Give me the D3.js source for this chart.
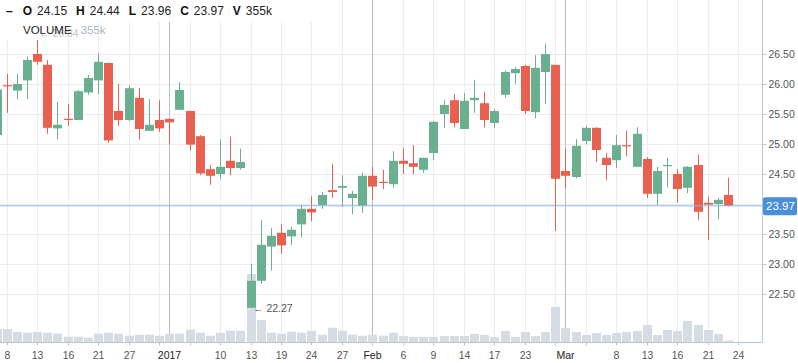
<!DOCTYPE html>
<html><head><meta charset="utf-8">
<script src="https://cdn.jsdelivr.net/npm/d3@7"></script>
<style>
body{margin:0;background:#fff}
svg{display:block;font-family:"Liberation Sans",Arial,sans-serif}
</style>
</head><body>
<svg id="c" width="798" height="363"></svg>
<script>
// ---------------- DATA ----------------
const dates = [
"2016-12-07","2016-12-08","2016-12-09","2016-12-12","2016-12-13","2016-12-14","2016-12-15","2016-12-16",
"2016-12-19","2016-12-20","2016-12-21","2016-12-22","2016-12-23","2016-12-27","2016-12-28","2016-12-29","2016-12-30",
"2017-01-03","2017-01-04","2017-01-05","2017-01-06","2017-01-09","2017-01-10","2017-01-11","2017-01-12","2017-01-13",
"2017-01-17","2017-01-18","2017-01-19","2017-01-20","2017-01-23","2017-01-24","2017-01-25","2017-01-26","2017-01-27",
"2017-01-30","2017-01-31","2017-02-01","2017-02-02","2017-02-03","2017-02-06","2017-02-07","2017-02-08","2017-02-09",
"2017-02-10","2017-02-13","2017-02-14","2017-02-15","2017-02-16","2017-02-17","2017-02-21","2017-02-22","2017-02-23",
"2017-02-24","2017-02-27","2017-02-28","2017-03-01","2017-03-02","2017-03-03","2017-03-06","2017-03-07","2017-03-08",
"2017-03-09","2017-03-10","2017-03-13","2017-03-14","2017-03-15","2017-03-16","2017-03-17","2017-03-20","2017-03-21",
"2017-03-22","2017-03-23","2017-03-24"];

const open  = [25.15,25.98,25.89,26.06,26.50,26.32,25.26,25.42,25.40,25.86,26.06,26.35,25.55,25.40,25.77,25.22,25.40,
25.42,25.57,25.55,25.13,24.58,24.50,24.72,24.60,22.27,22.72,23.29,23.52,23.46,23.66,23.92,23.98,24.23,24.27,24.10,23.97,
24.47,24.37,24.33,24.72,24.68,24.57,24.85,25.50,25.73,25.25,25.73,25.68,25.35,25.82,26.18,26.30,25.53,26.20,26.32,
24.55,24.45,25.05,25.27,24.77,24.73,24.98,24.62,24.75,24.17,24.63,24.50,24.27,24.65,24.02,24.00,24.15];
const high  = [25.95,26.17,26.17,26.46,26.84,26.40,25.70,25.67,25.90,26.15,26.51,26.35,26.00,25.98,25.93,25.75,25.73,
25.42,26.03,25.55,25.15,24.65,25.08,25.12,24.92,23.00,23.73,23.60,23.67,23.62,23.98,24.13,24.20,24.67,24.48,24.22,24.52,
24.62,24.57,24.88,24.93,24.98,24.77,25.38,25.73,25.83,25.85,26.07,25.87,25.58,26.23,26.28,26.32,26.48,26.67,26.32,
24.92,25.08,25.30,25.28,24.85,25.15,25.22,25.28,24.78,24.62,24.77,24.58,24.63,24.82,24.12,24.10,24.44];
const low   = [25.10,25.52,25.75,25.75,26.32,25.17,25.08,25.30,25.40,25.82,25.83,25.02,25.30,25.38,25.07,25.22,25.20,
25.00,25.57,24.89,24.48,24.32,24.42,24.48,24.57,22.27,22.67,22.89,23.17,23.32,23.44,23.71,23.92,24.10,23.95,23.83,23.85,
24.07,24.25,24.27,24.50,24.50,24.52,24.73,25.27,25.28,25.25,25.52,25.28,25.27,25.77,26.00,25.50,25.43,25.67,23.55,
24.27,24.43,25.00,24.70,24.40,24.60,24.80,24.62,24.10,23.98,24.28,24.02,24.18,23.73,23.40,23.75,23.96];
const close = [25.91,25.96,26.00,26.40,26.37,25.27,25.32,25.40,25.88,26.10,26.37,25.06,25.40,25.93,25.25,25.32,25.26,
25.36,25.90,24.99,24.51,24.47,24.62,24.60,24.70,22.72,23.32,23.47,23.31,23.57,23.92,23.86,24.15,24.20,24.30,24.17,24.47,
24.29,24.35,24.72,24.67,24.62,24.77,25.37,25.65,25.35,25.72,25.77,25.40,25.55,26.20,26.25,25.55,26.27,26.50,24.42,
24.47,24.97,25.27,24.90,24.65,24.98,24.97,25.17,24.17,24.55,24.65,24.25,24.62,23.87,23.99,24.07,23.97];
// volume in thousands
const volume = [3010,3080,2370,2200,2370,2200,1965,1255,1255,1020,1965,2200,1965,1490,1730,1730,1490,
1965,1965,2910,2200,1490,2200,2675,2675,16095,5210,2200,1965,2440,2200,2675,1730,3385,2675,1730,1490,
1730,1490,2200,1420,1185,1185,1185,1420,1420,1420,1895,1655,1185,2605,1185,2370,1420,2370,8285,
3315,2370,1655,2130,1655,2130,2370,2605,4025,1655,2840,2605,4970,4025,2840,1895,355];

const gridDates = ["2016-12-08","2016-12-13","2016-12-16","2016-12-21","2016-12-27","2016-12-30","2017-01-05",
"2017-01-10","2017-01-13","2017-01-19","2017-01-24","2017-01-27","2017-02-01","2017-02-06","2017-02-09","2017-02-14",
"2017-02-17","2017-02-23","2017-02-28","2017-03-03","2017-03-08","2017-03-13","2017-03-16","2017-03-21","2017-03-24"];
const monthDates = ["2017-01-03","2017-02-01","2017-03-01"];
const tickDates = ["2016-12-08","2016-12-13","2016-12-16","2016-12-21","2016-12-27","2017-01-03","2017-01-10",
"2017-01-13","2017-01-19","2017-01-24","2017-01-27","2017-02-01","2017-02-06","2017-02-09","2017-02-14","2017-02-17",
"2017-02-23","2017-03-01","2017-03-08","2017-03-13","2017-03-16","2017-03-21","2017-03-24"];
const tickLabels = ["8","13","16","21","27","2017","10","13","19","24","27","Feb","6","9","14","17","23","Mar",
"8","13","16","21","24"];
const priceTicks = [22.5,23,23.5,24,24.5,25,25.5,26,26.5];

// ---------------- CHART ----------------
const GREEN="#6aaf8f", RED="#e8604f";
const plotR=762.5, plotB=342.5;
const svg=d3.select("#c");
const x=d3.scalePoint().domain(dates).range([-3.46,738.2]);
const y=d3.scaleLinear().domain([22.5,26.5]).range([294,54]);
const yv=d3.scaleLinear().domain([0,16095]).range([342,274]);
const data=open.map((o,i)=>({date:dates[i],o,h:high[i],l:low[i],c:close[i],v:volume[i]}));
const cx=d=>Math.round(x(d));
const last=data[data.length-1];

// gridlines
svg.append("g").selectAll("line").data(priceTicks).join("line")
  .attr("x1",0).attr("x2",plotR).attr("y1",d=>Math.round(y(d))+0.5).attr("y2",d=>Math.round(y(d))+0.5)
  .attr("stroke","#ececec");
svg.append("g").selectAll("line").data(gridDates).join("line")
  .attr("x1",d=>cx(d)+0.5).attr("x2",d=>cx(d)+0.5).attr("y1",0).attr("y2",plotB)
  .attr("stroke","#ececec");
svg.append("g").selectAll("line").data(monthDates).join("line")
  .attr("x1",d=>cx(d)+0.5).attr("x2",d=>cx(d)+0.5).attr("y1",0).attr("y2",plotB)
  .attr("stroke","#bdbdbd");

// volume
svg.append("g").selectAll("rect").data(data).join("rect")
  .attr("x",d=>cx(d.date)-4).attr("width",9)
  .attr("y",d=>yv(d.v)).attr("height",d=>342-yv(d.v))
  .attr("fill","#d5dce3");

// candles
const cg=svg.append("g").selectAll("g").data(data).join("g")
  .attr("fill",d=>d.c>=d.o?GREEN:RED).attr("stroke",d=>d.c>=d.o?GREEN:RED);
cg.append("line").attr("x1",d=>cx(d.date)+0.5).attr("x2",d=>cx(d.date)+0.5)
  .attr("y1",d=>y(d.h)).attr("y2",d=>y(d.l)).attr("stroke-width",1);
cg.append("rect").attr("stroke","none")
  .attr("x",d=>cx(d.date)-4).attr("width",9)
  .attr("y",d=>y(Math.max(d.o,d.c)))
  .attr("height",d=>Math.max(1.2,Math.abs(y(d.o)-y(d.c))));

// min annotation
const f2=d3.format(".2f");
const minD=data[d3.minIndex(data,d=>d.l)], maxD=data[d3.maxIndex(data,d=>d.h)];
svg.append("text").attr("x",cx(minD.date)+2).attr("y",y(minD.l)+4)
  .attr("font-size",10.5).attr("fill","#555").text("← "+f2(minD.l));

// close line
svg.append("line").attr("x1",0).attr("x2",plotR).attr("y1",y(last.c)).attr("y2",y(last.c))
  .attr("stroke","#8db6e6").attr("stroke-width",1);

// axes
svg.append("line").attr("x1",plotR).attr("x2",plotR).attr("y1",0).attr("y2",plotB).attr("stroke","#b7c8d7");
svg.append("line").attr("x1",0).attr("x2",plotR).attr("y1",plotB).attr("y2",plotB).attr("stroke","#b7c8d7");
const ya=svg.append("g").attr("transform",`translate(${plotR},0)`)
  .call(d3.axisRight(y).tickValues(priceTicks).tickFormat(d3.format(".2f")).tickSize(4).tickPadding(2));
ya.select(".domain").remove();
ya.selectAll(".tick line").attr("stroke","#b7c8d7");
ya.selectAll(".tick text").attr("fill","#555").attr("font-size",10.5).attr("font-family","Liberation Sans, Arial, sans-serif");
ya.selectAll(".tick").attr("transform",d=>`translate(0,${Math.round(y(d))+0.5})`);
// the last-price badge hides the tick label it sits on
ya.selectAll(".tick text").filter(d=>Math.abs(y(d)-y(last.c))<10).remove();

svg.append("g").selectAll("line").data(gridDates).join("line")
  .attr("x1",d=>cx(d)+0.5).attr("x2",d=>cx(d)+0.5).attr("y1",plotB).attr("y2",plotB+3).attr("stroke","#b7c8d7");
const xa=svg.append("g").attr("transform",`translate(0,${plotB})`)
  .call(d3.axisBottom(x).tickValues(tickDates).tickFormat((d,i)=>tickLabels[i]).tickSize(0).tickPadding(9));
xa.select(".domain").remove();
xa.selectAll(".tick").attr("transform",d=>`translate(${cx(d)+0.5},0)`);
xa.selectAll(".tick text").attr("font-size",10.5).attr("font-family","Liberation Sans, Arial, sans-serif")
  .attr("fill",d=>monthDates.includes(d)?"#222":"#555");

// last price label
svg.append("rect").attr("x",763).attr("y",y(last.c)-8.5).attr("width",34).attr("height",18).attr("rx",2).attr("fill","#4a8fd9");
svg.append("text").attr("x",766).attr("y",y(last.c)+4.5).attr("font-size",11.5).attr("fill","#fff").text(f2(last.c));

// header
svg.append("rect").attr("x",0).attr("y",0).attr("width",313).attr("height",22).attr("fill","#fff");
const items=[["O",f2(last.o)],["H",f2(last.h)],["L",f2(last.l)],["C",f2(last.c)],["V",last.v+"k"]];
let px=6;
const dash=svg.append("text").attr("x",px).attr("y",15).attr("font-size",12).attr("font-weight","bold").attr("fill","#111").text("–");
px+=dash.node().getComputedTextLength()+10;
items.forEach(([k,v])=>{
  const a=svg.append("text").attr("x",px).attr("y",15).attr("font-size",12).attr("font-weight","bold").attr("fill","#111").text(k);
  px+=a.node().getComputedTextLength()+5;
  const b=svg.append("text").attr("x",px).attr("y",15).attr("font-size",12).attr("fill","#222").text(v);
  px+=b.node().getComputedTextLength()+9;
});

// volume legend (max-high annotation shows faded behind it, as in the reference)
svg.append("rect").attr("x",0).attr("y",22).attr("width",75).attr("height",18).attr("fill","#fff");
svg.append("text").attr("x",cx(maxD.date)+2).attr("y",y(maxD.h)+3)
  .attr("font-size",10.5).attr("fill","#c4c4c4").text("← "+f2(maxD.h));
const vl=svg.append("text").attr("x",23).attr("y",34).attr("font-size",11.5).attr("fill","#222").text("VOLUME");
svg.append("text").attr("x",23+vl.node().getComputedTextLength()+9).attr("y",34).attr("font-size",11.5)
  .attr("fill","#a6b6c6").text(last.v+"k");
</script>
</body></html>
